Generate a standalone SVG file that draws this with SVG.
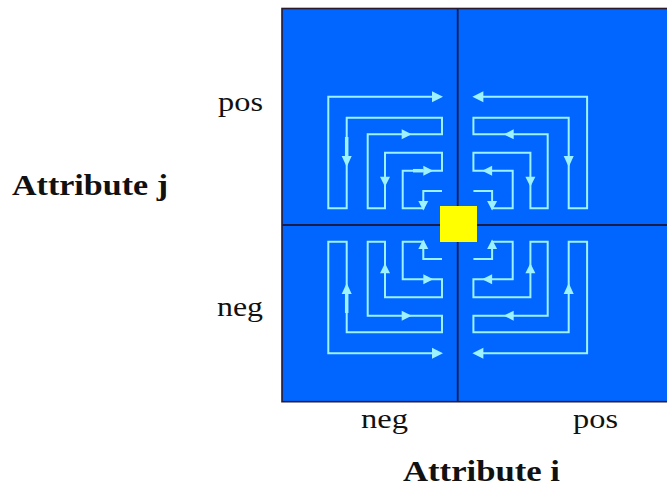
<svg xmlns="http://www.w3.org/2000/svg" width="667" height="489" viewBox="0 0 667 489">
  <defs>
    <style>
      .flow { fill: none; stroke: #9cf2ff; stroke-width: 2; stroke-linejoin: miter; }
      .stem { stroke: #9cf2ff; stroke-width: 3.5; }
      .head { fill: #9cf2ff; }
      .lbl { font-family: "Liberation Serif", "Times New Roman", serif; font-size: 28px; fill: #111; }
      .axis { font-family: "Liberation Serif", "Times New Roman", serif; font-size: 29px; font-weight: bold; fill: #111; }
      .div { stroke: #1c1c4a; stroke-width: 1.8; }
    </style>
    <g id="quad">
      <path class="flow" d="M442,191 H423.3 V208.3 H402.7 V170.7 H442 V152.7 H385 V208.3 H367.7 V134.3 H442 V117.7 H346.7 V208.3 H328.3 V96.7 H433"/>
      <polygon class="head" points="443,96.7 432,91.2 432,102.2"/>
      <polygon class="head" points="346.7,167 341.7,156 351.7,156"/>
      <polygon class="head" points="411.7,134.3 401.7,129.3 401.7,139.3"/>
      <polygon class="head" points="385,186.7 380,176.7 390,176.7"/>
      <polygon class="head" points="433.3,170.7 423.3,165.7 423.3,175.7"/>
      <polygon class="head" points="423.3,210.5 418.3,201 428.3,201"/>
    </g>
  </defs>

  <g id="field">
    <rect x="282" y="8.5" width="390" height="393.2" fill="#0066ff" stroke="#2a1a2a" stroke-width="1.6"/>
  </g>

  <g id="connectors">
    <g id="flow-top-left">
      <use href="#quad"/>
      <line class="stem" x1="346.7" y1="137" x2="346.7" y2="156"/>
      <line class="stem" x1="413" y1="170.7" x2="423.3" y2="170.7"/>
    </g>
    <g id="flow-top-right" transform="translate(915.4,0) scale(-1,1)">
      <use href="#quad"/>
    </g>
    <g id="flow-bottom-left" transform="translate(0,450) scale(1,-1)">
      <use href="#quad"/>
      <line class="stem" x1="346.7" y1="137" x2="346.7" y2="156"/>
    </g>
    <g id="flow-bottom-right" transform="translate(915.4,450) scale(-1,-1)">
      <use href="#quad"/>
    </g>
  </g>

  <g id="dividers">
    <line class="div" x1="457.7" y1="8.5" x2="457.7" y2="401.7"/>
    <line class="div" x1="282" y1="225" x2="667" y2="225"/>
  </g>

  <g id="optimum">
    <rect x="440" y="206" width="37" height="36" fill="#ffff00"/>
  </g>

  <g id="labels">
    <text class="lbl" x="218" y="111" textLength="45" lengthAdjust="spacingAndGlyphs">pos</text>
    <text class="lbl" x="217" y="316" textLength="46" lengthAdjust="spacingAndGlyphs">neg</text>
    <text class="lbl" x="361" y="428" textLength="47" lengthAdjust="spacingAndGlyphs">neg</text>
    <text class="lbl" x="573" y="428" textLength="45" lengthAdjust="spacingAndGlyphs">pos</text>
    <text class="axis" x="12" y="195" textLength="156" lengthAdjust="spacingAndGlyphs">Attribute j</text>
    <text class="axis" x="403" y="481" textLength="157" lengthAdjust="spacingAndGlyphs">Attribute i</text>
  </g>
</svg>
